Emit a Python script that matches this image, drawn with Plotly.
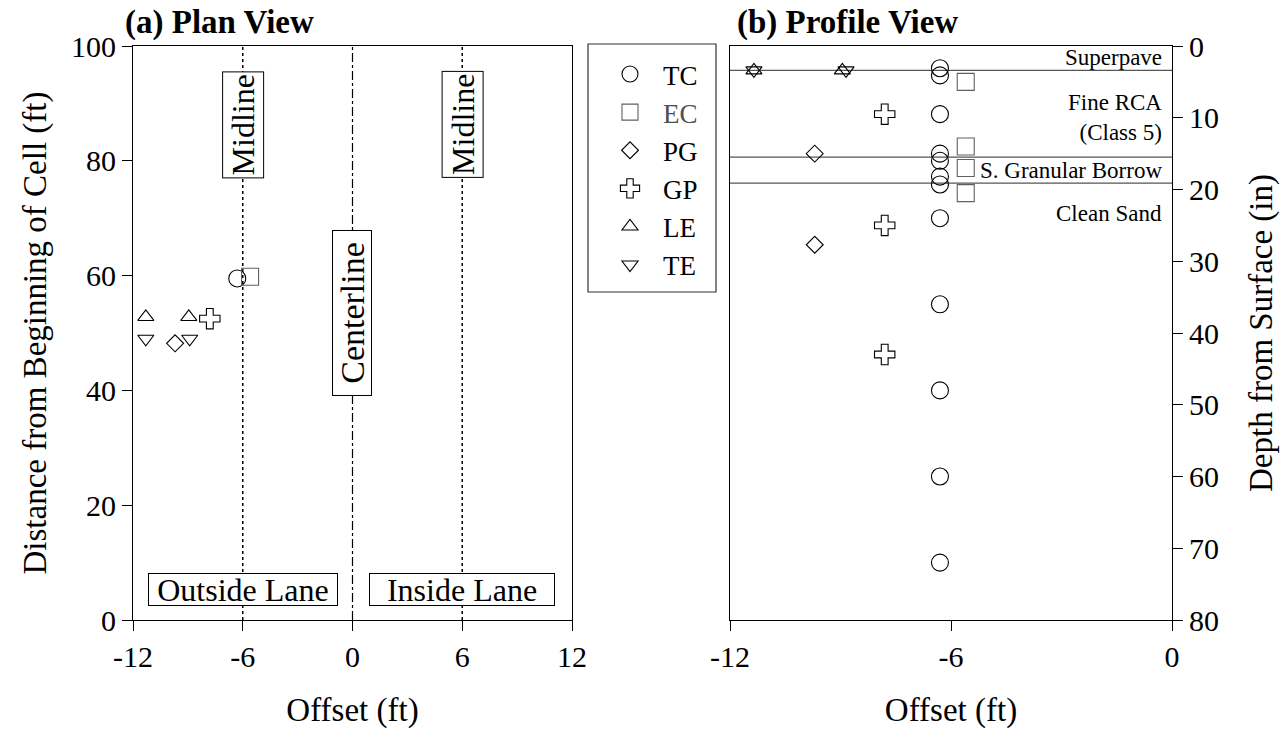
import plotly.graph_objects as go

# ---------------- data ----------------
# (a) Plan view: offset (ft) vs distance from beginning of cell (ft)
plan_TC_x = [-6.3]
plan_TC_y = [59.5]
plan_EC_x = [-5.6]
plan_EC_y = [59.8]
plan_PG_x = [-9.7]
plan_PG_y = [48.2]
plan_GP_x = [-7.8]
plan_GP_y = [52.5]
plan_LE_x = [-11.3, -8.95]
plan_LE_y = [52.8, 52.8]
plan_TE_x = [-11.3, -8.9]
plan_TE_y = [49.0, 49.0]

# (b) Profile view: offset (ft) vs depth from surface (in)
prof_TC_x = [-6.3] * 12
prof_TC_d = [3.1, 4.1, 9.5, 15.0, 16.0, 18.2, 19.3, 24.0, 36.0, 48.0, 60.0, 72.0]
prof_EC_x = [-5.6] * 4
prof_EC_d = [5.0, 14.0, 17.0, 20.5]
prof_PG_x = [-9.7] * 2
prof_PG_d = [15.0, 27.7]
prof_GP_x = [-7.8] * 3
prof_GP_d = [9.5, 25.0, 43.0]
prof_LE_x = [-11.35, -8.95]
prof_LE_d = [3.4, 3.4]
prof_TE_x = [-11.35, -8.85]
prof_TE_d = [3.4, 3.4]

# layer boundaries (depth, in) and labels
layer_bounds = [3.4, 15.5, 19.1]
layer_labels = ["Superpave", "Fine RCA<br>(Class 5)", "S. Granular Borrow", "Clean Sand"]
layer_label_depths = [1.6, 9.9, 17.3, 23.3]

# plan view reference lines
midlines = [-6, 6]
centerline = 0

x1_ticks = [-12, -6, 0, 6, 12]
x2_ticks = [-12, -6, 0]
y1_ticks = [0, 20, 40, 60, 80, 100]
y2_ticks = [0, 10, 20, 30, 40, 50, 60, 70, 80]

FONT = "Liberation Serif, Times New Roman, serif"
W, H = 1288, 729

sensors = [
    ("TC", "circle-open", 17, "black", plan_TC_x, plan_TC_y, prof_TC_x, prof_TC_d),
    ("EC", "square-open", 17, "#606060", plan_EC_x, plan_EC_y, prof_EC_x, prof_EC_d),
    ("PG", "diamond-open", 13, "black", plan_PG_x, plan_PG_y, prof_PG_x, prof_PG_d),
    ("GP", "cross-open", 17, "black", plan_GP_x, plan_GP_y, prof_GP_x, prof_GP_d),
    ("LE", "triangle-up-open", 14, "black", plan_LE_x, plan_LE_y, prof_LE_x, prof_LE_d),
    ("TE", "triangle-down-open", 14, "black", plan_TE_x, plan_TE_y, prof_TE_x, prof_TE_d),
]

fig = go.Figure()
for name, sym, size, col, px, py, qx, qd in sensors:
    label = name if name != "EC" else "<span style='color:#505050'>EC</span>"
    marker = dict(symbol=sym, size=size, color=col, line=dict(width=1.1, color=col))
    fig.add_trace(go.Scatter(x=px, y=py, mode="markers", name=label, legendgroup=name,
                             marker=marker, xaxis="x", yaxis="y", showlegend=True))
    fig.add_trace(go.Scatter(x=qx, y=qd, mode="markers", name=label, legendgroup=name,
                             marker=marker, xaxis="x2", yaxis="y2", showlegend=False))

shapes = []
for m in midlines:
    shapes.append(dict(type="line", xref="x", yref="paper", x0=m, x1=m,
                       y0=1 - 620 / H, y1=1 - 46 / H,
                       line=dict(color="black", width=1.5, dash="dot"), layer="below"))
shapes.append(dict(type="line", xref="x", yref="paper", x0=centerline, x1=centerline,
                   y0=1 - 620 / H, y1=1 - 46 / H,
                   line=dict(color="black", width=1.2, dash="dashdot"), layer="below"))
for b in layer_bounds:
    shapes.append(dict(type="line", xref="x2", yref="y2", x0=-12, x1=0, y0=b, y1=b,
                       line=dict(color="#555555", width=1.3), layer="below"))
# legend frame
shapes.append(dict(type="rect", xref="paper", yref="paper",
                   x0=588 / W, x1=716 / W, y0=1 - 292 / H, y1=1 - 44 / H,
                   line=dict(color="#333333", width=1.2)))

ann = []
box = dict(bordercolor="black", borderwidth=1, bgcolor="white", borderpad=2,
           showarrow=False)
f32 = dict(family=FONT, size=32, color="black")
for m in midlines:
    ann.append(dict(x=m, y=86.3, xref="x", yref="y", text="Midline", textangle=-90,
                    font=f32, **box))
ann.append(dict(x=centerline, y=53.4, xref="x", yref="y", text="Centerline", textangle=-90,
                width=160, height=34, font=dict(family=FONT, size=34, color="black"), **box))
ann.append(dict(x=-6, y=5.4, xref="x", yref="y", text="Outside Lane", width=184, height=27,
                font=f32, **box))
ann.append(dict(x=6, y=5.4, xref="x", yref="y", text="Inside Lane", width=180, height=27,
                font=f32, **box))
for t, d in zip(layer_labels, layer_label_depths):
    ann.append(dict(x=0, y=d, xref="x2", yref="y2", text=t, xanchor="right", align="right",
                    xshift=-8, showarrow=False, font=dict(family=FONT, size=23, color="black")))
ann.append(dict(x=123 / W, y=1 - 22 / H, xref="paper", yref="paper", text="<b>(a) Plan View</b>",
                xanchor="left", yanchor="middle", showarrow=False,
                font=dict(family=FONT, size=33, color="black")))
ann.append(dict(x=735 / W, y=1 - 22 / H, xref="paper", yref="paper", text="<b>(b) Profile View</b>",
                xanchor="left", yanchor="middle", showarrow=False,
                font=dict(family=FONT, size=33, color="black")))

axis_common = dict(showline=True, linecolor="black", linewidth=1, mirror=True,
                   ticks="outside", ticklen=10, tickcolor="black", tickwidth=1,
                   showgrid=False, zeroline=False, automargin=False,
                   tickfont=dict(family=FONT, size=30, color="black"))
tfont = dict(family=FONT, size=33, color="black")

fig.update_layout(
    template="none",
    width=W, height=H, autosize=False,
    margin=dict(l=0, r=0, t=0, b=0),
    paper_bgcolor="white", plot_bgcolor="white",
    font=dict(family=FONT, color="black"),
    xaxis=dict(domain=[133 / W, 572 / W], range=[-12, 12], anchor="y",
               tickvals=x1_ticks, ticktext=[str(v) for v in x1_ticks],
               title=dict(text="Offset (ft)", font=tfont, standoff=27),
               **axis_common),
    yaxis=dict(domain=[1 - 620 / H, 1 - 46 / H], range=[0, 100], anchor="x",
               tickvals=y1_ticks, ticktext=[str(v) for v in y1_ticks],
               title=dict(text="Distance from Beginning of Cell (ft)", font=tfont, standoff=14),
               **axis_common),
    xaxis2=dict(domain=[730 / W, 1172 / W], range=[-12, 0], anchor="y2",
                tickvals=x2_ticks, ticktext=[str(v) for v in x2_ticks],
                title=dict(text="Offset (ft)", font=tfont, standoff=27),
                **axis_common),
    yaxis2=dict(domain=[1 - 620 / H, 1 - 46 / H], range=[80, 0], anchor="x2", side="right",
                tickvals=y2_ticks, ticktext=[str(v) for v in y2_ticks],
                title=dict(text="Depth from Surface (in)", font=tfont, standoff=30),
                **axis_common),
    shapes=shapes,
    annotations=ann,
    showlegend=True,
    legend=dict(x=597 / W, y=1 - 50 / H, xanchor="left", yanchor="top",
                bgcolor="rgba(0,0,0,0)", borderwidth=0, itemwidth=56,
                font=dict(family=FONT, size=27, color="black"), itemsizing="trace",
                tracegroupgap=0),
)

fig.write_html("out.html", config={"displayModeBar": False},
               post_script="document.body.style.margin='0';")
